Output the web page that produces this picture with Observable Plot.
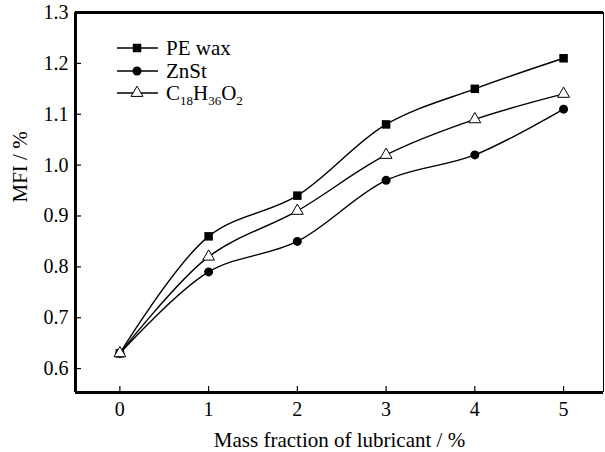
<!DOCTYPE html>
<html>
<head>
<meta charset="utf-8">
<script src="https://cdn.jsdelivr.net/npm/d3@7"></script>
<script src="https://cdn.jsdelivr.net/npm/@observablehq/plot@0.6"></script>
<style>
  html, body { margin: 0; padding: 0; background: #fff; }
  #chart { width: 605px; height: 452px; }
</style>
</head>
<body>
<div id="chart"></div>
<script>
// ---- data ----
const massFraction = [0, 1, 2, 3, 4, 5];
const peWax  = [0.63, 0.86, 0.94, 1.08, 1.15, 1.21];
const znSt   = [0.63, 0.79, 0.85, 0.97, 1.02, 1.11];
const stearic = [0.63, 0.82, 0.91, 1.02, 1.09, 1.14];
const seriesNames = ["PE wax", "ZnSt", "C18H36O2"];
const xTicks = [0, 1, 2, 3, 4, 5];
const yTicks = [0.6, 0.7, 0.8, 0.9, 1.0, 1.1, 1.2, 1.3];
const xDomain = [-0.5, 5.45];
const yDomain = [0.553, 1.3];
const xLabel = "Mass fraction of lubricant / %";
const yLabel = "MFI / %";

const seriesValues = [peWax, znSt, stearic];
const data = seriesNames.flatMap((s, i) =>
  massFraction.map((x, j) => ({series: s, x, y: seriesValues[i][j]})));
const bySeries = s => data.filter(d => d.series === s);

const FONT = "'Liberation Serif', 'Times New Roman', serif";

const plot = Plot.plot({
  width: 605,
  height: 452,
  marginLeft: 75,
  marginRight: 2,
  marginTop: 12,
  marginBottom: 60,
  style: {fontFamily: FONT, fontSize: "20px", background: "#fff", color: "#000"},
  x: {domain: xDomain, ticks: xTicks, label: null},
  y: {domain: yDomain, ticks: yTicks, label: null},
  marks: [
    Plot.line(data, {x: "x", y: "y", z: "series", curve: "catmull-rom", stroke: "#000", strokeWidth: 1.4}),
    Plot.dot(bySeries("PE wax"), {x: "x", y: "y", symbol: "square", fill: "#000", r: 4.8}),
    Plot.dot(bySeries("ZnSt"), {x: "x", y: "y", symbol: "circle", fill: "#000", r: 4.5}),
    Plot.dot(bySeries("C18H36O2"), {x: "x", y: "y", symbol: "triangle", fill: "#fff", stroke: "#000", strokeWidth: 1, r: 4.4}),
    // inward ticks
    Plot.axisX({ticks: xTicks, tickSize: 6, dy: -6, strokeWidth: 1.2, tickFormat: () => "", label: null}),
    Plot.axisY({ticks: yTicks, tickSize: -6, strokeWidth: 1.2, tickFormat: () => "", label: null}),
    // tick labels
    Plot.axisX({ticks: xTicks, tickSize: 0, tickPadding: 9, label: null, fontSize: 20, fontFamily: FONT, tickFormat: d3.format("d")}),
    Plot.axisY({ticks: yTicks, tickSize: 0, tickPadding: 7, label: null, fontSize: 20, fontFamily: FONT, tickFormat: d3.format(".1f")}),
    Plot.ruleX([xDomain[0]], {stroke: "#000", strokeWidth: 3}),
    Plot.ruleX([xDomain[1]], {stroke: "#000", strokeWidth: 1}),
    Plot.ruleY([yDomain[0]], {stroke: "#000", strokeWidth: 3}),
    Plot.ruleY([yDomain[1]], {stroke: "#000", strokeWidth: 3}),
    Plot.text([xLabel], {frameAnchor: "bottom", dy: 48, fontSize: 21, fontFamily: FONT, lineAnchor: "middle"}),
    Plot.text([yLabel], {frameAnchor: "left", dx: -55, rotate: -90, fontSize: 21, fontFamily: FONT, lineAnchor: "middle"})
  ]
});

document.getElementById("chart").appendChild(plot);

// ---- legend ----
const svg = d3.select(plot);
const legend = svg.append("g").attr("font-family", FONT).attr("fill", "#000").attr("text-anchor", "start");
const rowsY = [48, 71, 93];
const symbols = [d3.symbolSquare, d3.symbolCircle, d3.symbolTriangle];
const sizes = [Math.PI * 4.8 * 4.8, Math.PI * 4.5 * 4.5, Math.PI * 4.4 * 4.4];
seriesNames.forEach((name, i) => {
  const g = legend.append("g").attr("transform", `translate(0,${rowsY[i]})`);
  g.append("line").attr("x1", 117).attr("x2", 158).attr("stroke", "#000").attr("stroke-width", 1.4);
  g.append("path").attr("transform", "translate(137,0)")
    .attr("d", d3.symbol(symbols[i], sizes[i])())
    .attr("fill", i === 2 ? "#fff" : "#000")
    .attr("stroke", i === 2 ? "#000" : "none");
  const t = g.append("text").attr("x", 166).attr("y", 7).attr("font-size", 21).attr("text-anchor", "start");
  if (i < 2) {
    t.text(name);
  } else {
    t.append("tspan").text("C");
    t.append("tspan").attr("font-size", 13).attr("dy", 5).text("18");
    t.append("tspan").attr("dy", -5).text("H");
    t.append("tspan").attr("font-size", 13).attr("dy", 5).text("36");
    t.append("tspan").attr("dy", -5).text("O");
    t.append("tspan").attr("font-size", 13).attr("dy", 5).text("2");
  }
});
</script>
</body>
</html>
